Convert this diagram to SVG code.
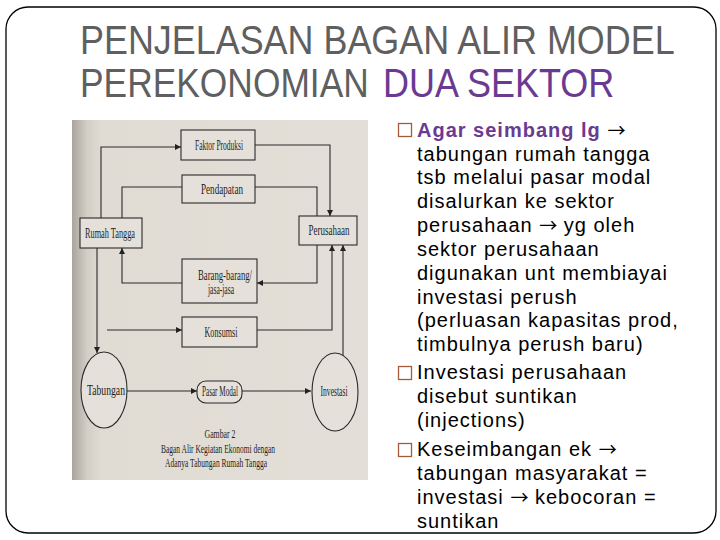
<svg xmlns="http://www.w3.org/2000/svg" width="720" height="540" viewBox="0 0 720 540">
<defs>
<linearGradient id="scan" x1="0" y1="0" x2="1" y2="0">
<stop offset="0" stop-color="#a9a59e"/>
<stop offset="0.05" stop-color="#d2cec6"/>
<stop offset="0.1" stop-color="#e0dcd4"/>
<stop offset="1" stop-color="#e3dfd8"/>
</linearGradient>
<marker id="ah" viewBox="0 0 10 10" refX="10" refY="5" markerWidth="7" markerHeight="6" markerUnits="userSpaceOnUse" orient="auto">
<path d="M0,0 L10,5 L0,10 z" fill="#222"/>
</marker>
<style>
.title{font-family:"Liberation Sans",Arial,sans-serif;font-size:40px;fill:#5f5f5f}
.purple{fill:#6a3a92}
.bt{font-family:"Liberation Sans",Arial,sans-serif;font-size:20px;fill:#000;letter-spacing:1px}
.bb{font-weight:bold;fill:#6a3a92}
.ar{font-family:"Noto Sans CJK SC","DejaVu Sans",sans-serif;font-size:18px;letter-spacing:0}
.bul{fill:#fff;stroke:#a65a3a;stroke-width:1.3}
.box{fill:#e5e1da;stroke:#2a2a2a;stroke-width:1.1}
.lbl{font-family:"Liberation Serif","Times New Roman",serif;font-size:14px;fill:#1e1e1e;text-anchor:middle}
.cap{font-family:"Liberation Serif","Times New Roman",serif;font-size:13px;fill:#1e1e1e;text-anchor:middle}
.ln{fill:none;stroke:#2a2a2a;stroke-width:1.1}
.arr{marker-end:url(#ah)}
</style>
</defs>
<rect x="0" y="0" width="720" height="540" fill="#fff"/>
<rect x="6" y="7" width="710" height="526" rx="22" ry="22" fill="none" stroke="#000" stroke-width="1.3"/>

<g id="title">
<text class="title" transform="translate(80,54) scale(0.898,1)">PENJELASAN BAGAN ALIR MODEL</text>
<text class="title" transform="translate(80,97) scale(0.884,1)">PEREKONOMIAN</text>
<text class="title purple" transform="translate(383,97) scale(0.90,1)">DUA SEKTOR</text>
</g>

<g id="scan-image">
<rect x="72" y="120" width="296" height="360" fill="url(#scan)"/>
</g>

<g id="connectors">
<path class="ln arr" d="M101,218 V147 H181"/>
<path class="ln arr" d="M255,145 H330 V216"/>
<path class="ln" d="M317,216 V187 H255"/>
<path class="ln" d="M182,187 H122 V218"/>
<path class="ln arr" d="M317,245 V283 H257"/>
<path class="ln arr" d="M182,283 H122 V248"/>
<path class="ln arr" d="M97,248 V353"/>
<path class="ln arr" d="M107,330 H182"/>
<path class="ln arr" d="M257,330 H332 V245"/>
<path class="ln arr" d="M343,356 V245"/>
<path class="ln arr" d="M127,391 H197"/>
<path class="ln arr" d="M242,391 H311"/>
</g>

<g id="faktor-produksi">
<rect class="box" x="181" y="130" width="74" height="30"/>
<text class="lbl" x="219" y="150" textLength="48" lengthAdjust="spacingAndGlyphs">Faktor Produksi</text>
</g>
<g id="pendapatan">
<rect class="box" x="182" y="175" width="73" height="28"/>
<text class="lbl" x="222" y="194" textLength="42" lengthAdjust="spacingAndGlyphs">Pendapatan</text>
</g>
<g id="rumah-tangga">
<rect class="box" x="80" y="218" width="62" height="30"/>
<text class="lbl" x="110" y="238" textLength="50" lengthAdjust="spacingAndGlyphs">Rumah Tangga</text>
</g>
<g id="perusahaan">
<rect class="box" x="299" y="216" width="58" height="29"/>
<text class="lbl" x="329" y="235" textLength="41" lengthAdjust="spacingAndGlyphs">Perusahaan</text>
</g>
<g id="barang-jasa">
<rect class="box" x="182" y="259" width="75" height="44"/>
<text class="lbl" x="225" y="280" textLength="54" lengthAdjust="spacingAndGlyphs">Barang-barang/</text>
<text class="lbl" x="221" y="294" textLength="26" lengthAdjust="spacingAndGlyphs">jasa-jasa</text>
</g>
<g id="konsumsi">
<rect class="box" x="182" y="317" width="75" height="30"/>
<text class="lbl" x="221" y="337" textLength="33" lengthAdjust="spacingAndGlyphs">Konsumsi</text>
</g>
<g id="tabungan">
<ellipse class="box" cx="104" cy="390" rx="23" ry="38"/>
<text class="lbl" x="106" y="395" textLength="38" lengthAdjust="spacingAndGlyphs">Tabungan</text>
</g>
<g id="pasar-modal">
<rect class="box" x="197" y="381" width="45" height="22" rx="9" ry="9"/>
<text class="lbl" x="220" y="396" textLength="36" lengthAdjust="spacingAndGlyphs">Pasar Modal</text>
</g>
<g id="investasi">
<ellipse class="box" cx="335" cy="392" rx="23" ry="39"/>
<text class="lbl" x="334" y="396" textLength="27" lengthAdjust="spacingAndGlyphs">Investasi</text>
</g>
<g id="caption">
<text class="cap" x="220" y="438" textLength="31" lengthAdjust="spacingAndGlyphs">Gambar 2</text>
<text class="cap" x="218" y="453" textLength="114" lengthAdjust="spacingAndGlyphs">Bagan Alir Kegiatan Ekonomi dengan</text>
<text class="cap" x="216" y="467" textLength="102" lengthAdjust="spacingAndGlyphs">Adanya Tabungan Rumah Tangga</text>
</g>

<g id="bullets">
<rect class="bul" x="398.5" y="123.5" width="13" height="13"/>
<rect class="bul" x="398.5" y="366.5" width="13" height="13"/>
<rect class="bul" x="398.5" y="443.5" width="13" height="13"/>
<text class="bt" x="417" y="137"><tspan class="bb">Agar seimbang lg</tspan> <tspan class="ar">→</tspan></text>
<text class="bt" x="417" y="161">tabungan rumah tangga</text>
<text class="bt" x="417" y="184">tsb melalui pasar modal</text>
<text class="bt" x="417" y="208">disalurkan ke sektor</text>
<text class="bt" x="417" y="232">perusahaan <tspan class="ar">→</tspan> yg oleh</text>
<text class="bt" x="417" y="256">sektor perusahaan</text>
<text class="bt" x="417" y="280">digunakan unt membiayai</text>
<text class="bt" x="417" y="304">investasi perush</text>
<text class="bt" x="417" y="327">(perluasan kapasitas prod,</text>
<text class="bt" x="417" y="351">timbulnya perush baru)</text>
<text class="bt" x="417" y="379">Investasi perusahaan</text>
<text class="bt" x="417" y="403">disebut suntikan</text>
<text class="bt" x="417" y="427">(injections)</text>
<text class="bt" x="417" y="456">Keseimbangan ek <tspan class="ar">→</tspan></text>
<text class="bt" x="417" y="480">tabungan masyarakat =</text>
<text class="bt" x="417" y="504">investasi <tspan class="ar">→</tspan> kebocoran =</text>
<text class="bt" x="417" y="528">suntikan</text>
</g>
</svg>
